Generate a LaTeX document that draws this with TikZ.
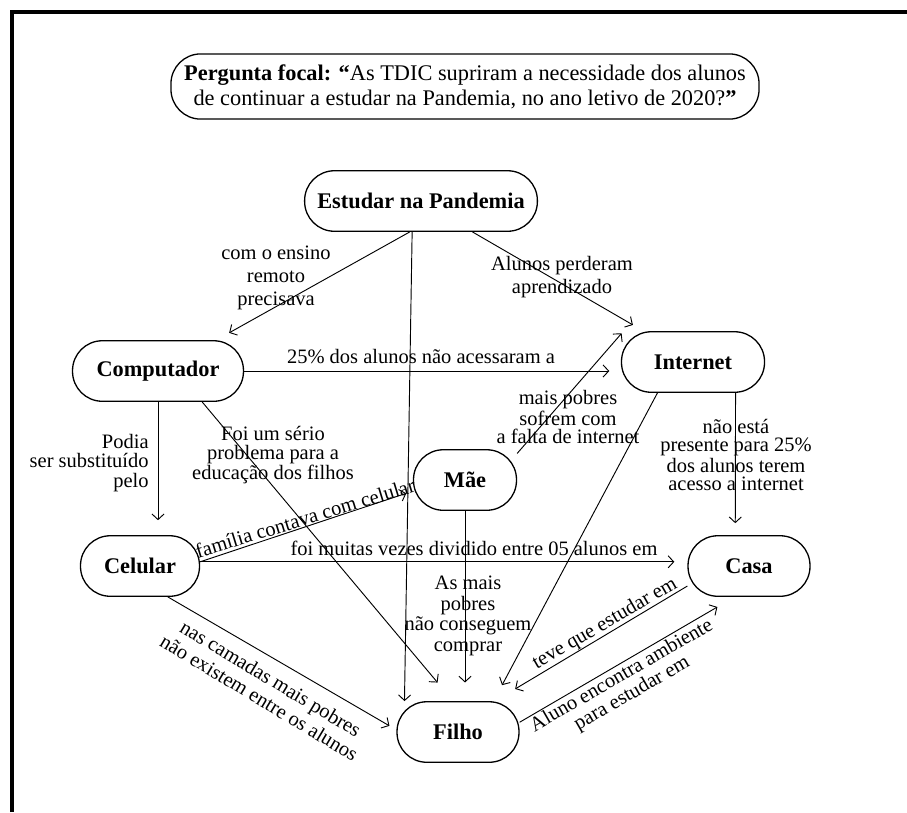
\documentclass[tikz,border=0pt]{standalone}
\usepackage{fontspec}
\setmainfont{Liberation Serif}
\usetikzlibrary{arrows.meta}

\tikzset{
  conceito/.style={draw, line width=0.7pt, rounded corners=16pt, minimum height=32.5pt, inner sep=2pt, font=\fontsize{12}{14}\selectfont\bfseries},
  rotulo/.style={align=center, inner sep=0pt, font=\fontsize{11}{12.4}\selectfont},
  seta/.style={-{Straight Barb[length=3pt,width=6.5pt]}, line width=0.5pt, shorten >=#1},
  seta/.default=6pt
}

\begin{document}
\begin{tikzpicture}[x=0.537pt,y=-0.537pt]
    \useasboundingbox (0,0) rectangle (907,812);
    % Moldura
    \draw[line width=2pt] (12,812) -- (12,12) -- (907,12);
    % Pergunta focal
    \node[draw, line width=0.7pt, rounded corners=16pt, minimum width=315.8pt, minimum height=35pt, align=center, font=\fontsize{12}{13.4}\selectfont] (focal) at (465,86.5)
      {\textbf{Pergunta focal: “}As TDIC supriram a necessidade dos alunos\\de continuar a estudar na Pandemia, no ano letivo de 2020?\textbf{”}};
    % Conceitos
    \node[conceito, minimum width=125pt] (est) at (421,201) {Estudar na Pandemia};
    \node[conceito, minimum width=91.8pt] (comp) at (158,371) {Computador};
    \node[conceito, minimum width=76.8pt] (inet) at (693,362) {Internet};
    \node[conceito, minimum width=55.3pt] (mae) at (465,480) {Mãe};
    \node[conceito, minimum width=63.9pt] (cel) at (140,566) {Celular};
    \node[conceito, minimum width=65.5pt] (casa) at (749,566) {Casa};
    \node[conceito, minimum width=65.5pt] (filho) at (458,732) {Filho};
    % Ligacoes a partir de Estudar na Pandemia
    \draw[seta=8pt] (est.250) -- (comp.28);
    \draw[seta=0pt] (est.254) -- (filho.150);
    \draw[seta=6.6pt] (est.329) -- (inet.148);
    \node[rotulo] (l-ensino) at (276,278) {com o ensino\\remoto\\precisava};
    \node[rotulo] (l-perderam) at (562,277) {Alunos perderam\\aprendizado};
    % Ligacoes a partir de Computador
    \draw[seta=6.2pt] (comp.east) -- (comp.east -| inet.west);
    \draw[seta=8pt] (comp.south) -- (comp.south |- cel.north);
    \draw[seta=13pt] (comp.325) -- (filho.99);
    \node[rotulo] (l-acessaram) at (421,357) {25\% dos alunos não acessaram a};
    \node[rotulo, align=right, anchor=east, font=\fontsize{11}{10.3}\selectfont] (l-podia) at (149,463) {Podia\\ser substituído\\pelo};
    \node[rotulo, font=\fontsize{11}{10.3}\selectfont] (l-serio) at (273,455) {Foi um sério\\problema para a\\educação dos filhos};
    % Ligacoes a partir de Celular
    \draw[seta=3.7pt] (cel.4) -- (mae.192);
    \draw[seta=7pt] (cel.4) -- (cel.4 -| casa.west);
    \draw[seta=4.3pt] (cel.312) -- (filho.178);
    \node[rotulo, rotate=17] (l-familia) at (305,518) {família contava com celular};
    \node[rotulo] (l-dividido) at (474,548) {foi muitas vezes dividido entre 05 alunos em};
    \node[rotulo, rotate=-31, font=\fontsize{11}{12}\selectfont] (l-camadas) at (265,688) {nas camadas mais pobres\\não existem entre os alunos};
    % Ligacoes a partir de Mae
    \draw[seta=1.6pt] (mae.27) -- (inet.156);
    \draw[seta=10pt] (mae.south) -- (mae.south |- filho.north);
    \node[rotulo, font=\fontsize{11}{9.8}\selectfont] (l-falta) at (568,417) {mais pobres\\sofrem com\\a falta de internet};
    \node[rotulo, font=\fontsize{11}{11}\selectfont] (l-comprar) at (468,616) {As mais\\pobres\\não conseguem\\comprar};
    % Ligacoes a partir de Internet
    \draw[seta=6.4pt] (inet.324) -- (casa.114);
    \draw[seta=9.7pt] (inet.221) -- (filho.41);
    \node[rotulo, font=\fontsize{11}{9.6}\selectfont] (l-presente) at (736,455) {não está\\presente para 25\%\\dos alunos terem\\acesso a internet};
    % Casa e Filho
    \draw[seta=12.7pt] (casa.198) -- (filho.40);
    \draw[seta=10.7pt] (filho.9) -- (casa.245);
    \node[rotulo, rotate=30] (l-teve) at (605,624) {teve que estudar em};
    \node[rotulo, rotate=30, font=\fontsize{11}{11}\selectfont] (l-ambiente) at (627,685) {Aluno encontra ambiente\\para estudar em};
\end{tikzpicture}
\end{document}
